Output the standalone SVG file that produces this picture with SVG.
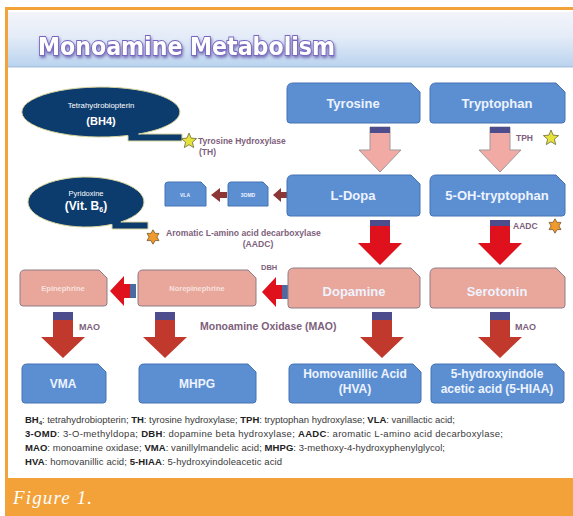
<svg xmlns="http://www.w3.org/2000/svg" width="573" height="516" viewBox="0 0 573 516">
<defs>
<linearGradient id="hdr" x1="0" y1="0" x2="0" y2="1">
<stop offset="0" stop-color="#f3f4fa"/>
<stop offset="0.45" stop-color="#e4ecf8"/>
<stop offset="1" stop-color="#b9d3ee"/>
</linearGradient>
<filter id="glow" x="-10%" y="-30%" width="120%" height="160%">
<feGaussianBlur in="SourceAlpha" stdDeviation="1.6" result="b"/>
<feOffset dx="1" dy="1.5" in="b" result="o"/>
<feFlood flood-color="#5a4aa0" flood-opacity="0.75"/>
<feComposite in2="o" operator="in" result="s"/>
<feMerge><feMergeNode in="s"/><feMergeNode in="SourceGraphic"/></feMerge>
</filter>
<style>
.blue{fill:#5b8fd2;stroke:#4573b4;stroke-width:1}
.pink{fill:#e9a69b;stroke:#8f7c88;stroke-width:1}
.nt{font-family:"Liberation Sans",Arial,sans-serif;font-weight:bold;fill:#eef3ff;text-anchor:middle}
.pt{font-family:"Liberation Sans",Arial,sans-serif;font-weight:bold;fill:#f7e2de;text-anchor:middle}
.lab{font-family:"Liberation Sans",Arial,sans-serif;font-weight:bold;fill:#7e5f7c}
.ell{fill:#0c3b6d;stroke:#d9d49a;stroke-width:1}
.et{font-family:"Liberation Sans",Arial,sans-serif;fill:#ffffff;text-anchor:middle}
.leg{font-family:"Liberation Sans",Arial,sans-serif;font-size:9.5px;fill:#3a3a3a}
.leg tspan.b{font-weight:bold;fill:#222}
.parrow{fill:#f2aaa4;stroke:#9e9a9c;stroke-width:1}
.rarrow{fill:#de111c}
.marrow{fill:#c0392c}
.band{fill:#4d4c8c}
.sarrow{fill:#8c3636}
</style>
</defs>

<!-- frame -->
<rect x="0" y="0" width="573" height="516" fill="#ffffff"/>
<rect x="8" y="12" width="565" height="55" fill="url(#hdr)"/>
<rect x="8" y="66" width="565" height="1.5" fill="#a9c3e0"/>
<rect x="5" y="7" width="568" height="3" fill="#f3a23a"/>
<rect x="5" y="7" width="3" height="472" fill="#f3a23a"/>
<rect x="5" y="478" width="568" height="38" fill="#f3a23a"/>
<text x="13" y="504" font-family="'Liberation Serif','DejaVu Serif',serif" font-style="italic" font-size="19" fill="#ffffff" textLength="79">Figure 1.</text>

<g id="title">
<text x="38" y="55" font-family="'DejaVu Sans',Verdana,sans-serif" font-weight="bold" font-size="24" fill="#ffffff" stroke="#7766c0" stroke-width="1.8" paint-order="stroke" filter="url(#glow)" textLength="297" lengthAdjust="spacingAndGlyphs">Monoamine Metabolism</text>
</g>

<!-- connectors -->
<g id="connectors">
<path class="parrow" d="M370,127 L390,127 L390,150 L401,150 L380,172 L359,150 L370,150 Z"/>
<rect class="band" x="370" y="127" width="20" height="6"/>
<path class="parrow" d="M490,127 L510,127 L510,150 L521,150 L500,172 L479,150 L490,150 Z"/>
<rect class="band" x="490" y="127" width="20" height="6"/>
<path class="rarrow" d="M370,220 L390,220 L390,243 L402,243 L380,265 L358,243 L370,243 Z"/>
<rect class="band" x="370" y="220" width="20" height="6"/>
<path class="rarrow" d="M490,220 L510,220 L510,243 L522,243 L500,265 L478,243 L490,243 Z"/>
<rect class="band" x="490" y="220" width="20" height="6"/>
<path class="rarrow" d="M288,285 L288,299 L276,299 L276,307 L262,292 L276,277 L276,285 Z"/>
<rect x="282" y="285" width="6" height="14" fill="#4d6aa0"/>
<path class="rarrow" d="M136,284 L136,298 L124,298 L124,306 L110,291 L124,276 L124,284 Z"/>
<rect x="130" y="284" width="6" height="14" fill="#4d6aa0"/>
<path class="sarrow" d="M288,192 L288,198 L281,198 L281,202 L273,195 L281,188 L281,192 Z"/>
<path class="sarrow" d="M227,192 L227,198 L220,198 L220,202 L211,195 L220,188 L220,192 Z"/>
<path class="marrow" d="M53,312 L73,312 L73,337 L85,337 L63,358 L41,337 L53,337 Z"/>
<rect class="band" x="53" y="312" width="20" height="8"/>
<path class="marrow" d="M155,312 L175,312 L175,337 L187,337 L165,358 L143,337 L155,337 Z"/>
<rect class="band" x="155" y="312" width="20" height="8"/>
<path class="marrow" d="M372,312 L392,312 L392,337 L404,337 L382,358 L360,337 L372,337 Z"/>
<rect class="band" x="372" y="312" width="20" height="8"/>
<path class="marrow" d="M490,312 L510,312 L510,337 L522,337 L500,358 L478,337 L490,337 Z"/>
<rect class="band" x="490" y="312" width="20" height="8"/>
</g>

<!-- cofactors -->
<g id="bh4">
<path class="ell" d="M138.5,134 A79 25 0 1 0 128,135.5 L128,141 L182,141 L182,134 Z"/>
<text class="et" x="101" y="108" font-size="7.8">Tetrahydrobiopterin</text>
<text class="et" x="101" y="125" font-size="11" font-weight="bold">(BH4)</text>
</g>
<g id="vitb6">
<path class="ell" d="M120.8,222 A58 25 0 1 0 112,224.35 L112,229 L148,229 L148,222 Z"/>
<text class="et" x="86" y="196" font-size="7.5">Pyridoxine</text>
<text class="et" x="86" y="210" font-size="12" font-weight="bold">(Vit. B<tspan font-size="7" dy="2">6</tspan><tspan dy="-2">)</tspan></text>
</g>

<!-- enzyme labels -->
<g id="th-label">
<polygon points="189,133 191.1,138.1 196.6,138.6 192.4,142.2 193.7,147.6 189,144.7 184.3,147.6 185.6,142.2 181.4,138.6 186.9,138.1" fill="#e6e23c" stroke="#6b6a3c" stroke-width="0.8"/>
<text class="lab" x="198" y="144" font-size="8.5">Tyrosine Hydroxylase</text>
<text class="lab" x="199" y="155" font-size="8.5">(TH)</text>
</g>
<g id="tph-label">
<text class="lab" x="516" y="141" font-size="8.5">TPH</text>
<polygon points="551,130 553.1,135.1 558.6,135.6 554.4,139.2 555.7,144.6 551,141.7 546.3,144.6 547.6,139.2 543.4,135.6 548.9,135.1" fill="#e6e23c" stroke="#6b6a3c" stroke-width="0.8"/>
</g>
<g id="aadc-label">
<polygon points="153,225 156.5,231 163,231 159.5,237 163,243 156.5,243 153,249 149.5,243 143,243 146.5,237 143,231 149.5,231" transform="translate(153 237) scale(0.6) translate(-153 -237)" fill="#f09a2c" stroke="#6a4a22" stroke-width="1.2"/>
<text class="lab" x="166" y="236" font-size="8.6">Aromatic L-amino acid decarboxylase</text>
<text class="lab" x="258" y="247" font-size="8.6" text-anchor="middle">(AADC)</text>
</g>
<g id="aadc-label2">
<text class="lab" x="513" y="229" font-size="8.5">AADC</text>
<polygon points="555,214 558.5,220 565,220 561.5,226 565,232 558.5,232 555,238 551.5,232 545,232 548.5,226 545,220 551.5,220" transform="translate(555 226) scale(0.6) translate(-555 -226)" fill="#f09a2c" stroke="#6a4a22" stroke-width="1.2"/>
</g>
<g id="dbh-label"><text class="lab" x="261" y="270" font-size="7.5">DBH</text></g>
<g id="mao-labels">
<text class="lab" x="79" y="330" font-size="9">MAO</text>
<text class="lab" x="200" y="330" font-size="10.5">Monoamine Oxidase (MAO)</text>
<text class="lab" x="515" y="330" font-size="9">MAO</text>
</g>

<!-- nodes -->
<g id="tyrosine">
<path class="blue" d="M287,89 Q287,83 293,83 L411,83 L420,92 L420,120 Q420,123 417,123 L290,123 Q287,123 287,120 Z"/>
<text class="nt" x="353" y="108" font-size="13">Tyrosine</text>
</g>
<g id="tryptophan">
<path class="blue" d="M430,89 Q430,83 436,83 L556,83 L565,92 L565,120 Q565,123 562,123 L433,123 Q430,123 430,120 Z"/>
<text class="nt" x="497" y="108" font-size="13">Tryptophan</text>
</g>
<g id="ldopa">
<path class="blue" d="M287,181 Q287,175 293,175 L411,175 L420,184 L420,213 Q420,216 417,216 L290,216 Q287,216 287,213 Z"/>
<text class="nt" x="353" y="200" font-size="13">L-Dopa</text>
</g>
<g id="ohtryptophan">
<path class="blue" d="M430,181 Q430,175 436,175 L556,175 L565,184 L565,213 Q565,216 562,216 L433,216 Q430,216 430,213 Z"/>
<text class="nt" x="497" y="200" font-size="13">5-OH-tryptophan</text>
</g>
<g id="vla">
<path class="blue" d="M165,185 Q165,182 168,182 L201,182 L206,187 L206,206 L165,206 Z"/>
<text class="nt" x="185" y="196.5" font-size="5">VLA</text>
</g>
<g id="omd">
<path class="blue" d="M228,185 Q228,182 231,182 L263,182 L268,187 L268,206 L228,206 Z"/>
<text class="nt" x="248" y="196.5" font-size="5">3OMD</text>
</g>
<g id="dopamine">
<path class="pink" d="M288,274 Q288,268 294,268 L411,268 L420,277 L420,305 Q420,308 417,308 L291,308 Q288,308 288,305 Z"/>
<text class="nt" x="354" y="296" font-size="13">Dopamine</text>
</g>
<g id="serotonin">
<path class="pink" d="M430,274 Q430,268 436,268 L556,268 L565,277 L565,305 Q565,308 562,308 L433,308 Q430,308 430,305 Z"/>
<text class="nt" x="497" y="296" font-size="13">Serotonin</text>
</g>
<g id="norepinephrine">
<path class="pink" d="M138,275 Q138,270 143,270 L248,270 L256,278 L256,303 Q256,306 253,306 L141,306 Q138,306 138,303 Z"/>
<text class="pt" x="197" y="291" font-size="7.5">Norepinephrine</text>
</g>
<g id="epinephrine">
<path class="pink" d="M20,275 Q20,270 25,270 L99,270 L107,278 L107,303 Q107,306 104,306 L23,306 Q20,306 20,303 Z"/>
<text class="pt" x="63" y="291" font-size="7.5">Epinephrine</text>
</g>
<g id="vma">
<path class="blue" d="M22,369 Q22,364 27,364 L98,364 L106,372 L106,400 Q106,403 103,403 L25,403 Q22,403 22,400 Z"/>
<text class="nt" x="63" y="388" font-size="12">VMA</text>
</g>
<g id="mhpg">
<path class="blue" d="M139,369 Q139,364 144,364 L248,364 L256,372 L256,400 Q256,403 253,403 L142,403 Q139,403 139,400 Z"/>
<text class="nt" x="197" y="388" font-size="12">MHPG</text>
</g>
<g id="hva">
<path class="blue" d="M289,369 Q289,364 294,364 L413,364 L421,372 L421,400 Q421,403 418,403 L292,403 Q289,403 289,400 Z"/>
<text class="nt" x="355" y="378" font-size="12">Homovanillic Acid</text>
<text class="nt" x="355" y="393" font-size="12">(HVA)</text>
</g>
<g id="hiaa">
<path class="blue" d="M431,369 Q431,364 436,364 L556,364 L564,372 L564,400 Q564,403 561,403 L434,403 Q431,403 431,400 Z"/>
<text class="nt" x="497" y="378" font-size="12">5-hydroxyindole</text>
<text class="nt" x="497" y="393" font-size="12">acetic acid (5-HIAA)</text>
</g>

<!-- legend -->
<g id="legend">
<text class="leg" x="25" y="423" textLength="430"><tspan class="b">BH</tspan><tspan class="b" font-size="6" dy="1.5">4</tspan><tspan dy="-1.5">: tetrahydrobiopterin; </tspan><tspan class="b">TH</tspan>: tyrosine hydroxylase; <tspan class="b">TPH</tspan>: tryptophan hydroxylase; <tspan class="b">VLA</tspan>: vanillactic acid;</text>
<text class="leg" x="25" y="437" textLength="478"><tspan class="b">3-OMD</tspan>: 3-O-methyldopa; <tspan class="b">DBH</tspan>: dopamine beta hydroxylase; <tspan class="b">AADC</tspan>: aromatic L-amino acid decarboxylase;</text>
<text class="leg" x="25" y="451" textLength="420"><tspan class="b">MAO</tspan>: monoamine oxidase; <tspan class="b">VMA</tspan>: vanillylmandelic acid; <tspan class="b">MHPG</tspan>: 3-methoxy-4-hydroxyphenylglycol;</text>
<text class="leg" x="25" y="465" textLength="257"><tspan class="b">HVA</tspan>: homovanillic acid; <tspan class="b">5-HIAA</tspan>: 5-hydroxyindoleacetic acid</text>
</g>
</svg>
